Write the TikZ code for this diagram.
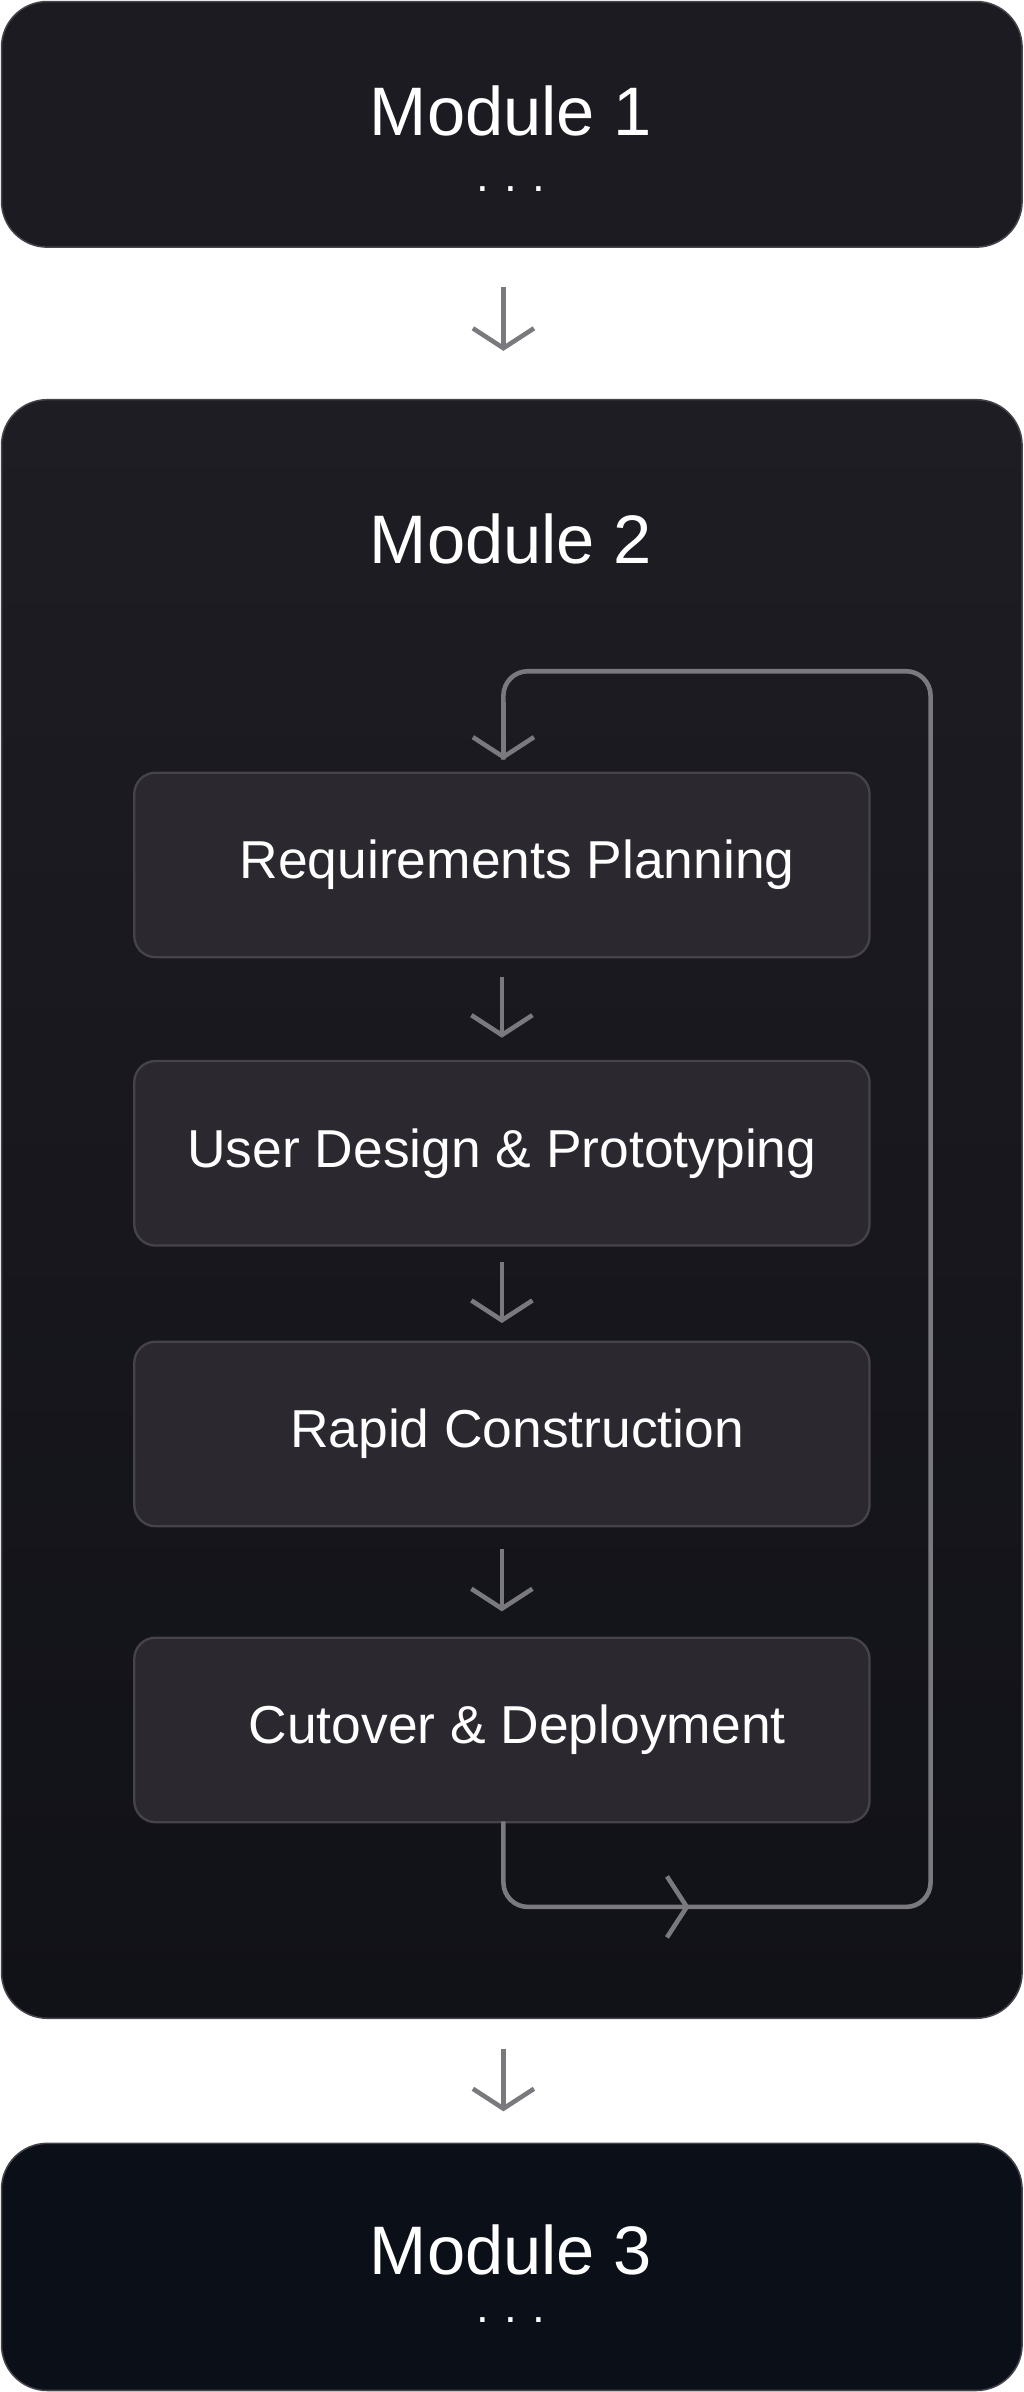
\documentclass[tikz,border=0pt]{standalone}
\usepackage{fontspec}
\setmainfont{Liberation Sans}
\usetikzlibrary{arrows.meta}
\definecolor{modtop}{HTML}{1C1B21}
\definecolor{modmid}{HTML}{1E1D23}
\definecolor{modlow}{HTML}{111118}
\definecolor{modbot}{HTML}{0B0F18}
\definecolor{stepfill}{HTML}{2B292F}
\definecolor{stepline}{HTML}{46444A}
\definecolor{flow}{HTML}{7A7A7E}
\begin{document}
\begin{tikzpicture}[x=1pt,y=-1pt,
    module/.style={rounded corners=30pt, draw=stepline, line width=1pt},
    stepbox/.style={rounded corners=14pt, draw=stepline, line width=1.5pt, fill=stepfill,
      minimum width=482pt, minimum height=121pt, text=white, font=\fontsize{35}{40}\selectfont},
    title/.style={text=white, font=\fontsize{45}{50}\selectfont},
    dots/.style={text=white, inner sep=0pt, font=\fontsize{30}{34}\selectfont},
    arrow/.style={-{Straight Barb[length=13pt,width=40pt,line width=3pt]}, draw=flow, line width=3pt}]
\useasboundingbox (0,0) rectangle (671,1568);
\fill[white] (0,0) rectangle (671,1568);

% Modules
\draw[module, fill=modtop] (1,1) rectangle (670,162);
\draw[module, top color=modmid, bottom color=modlow] (1,262) rectangle (670,1323);
\draw[module, fill=modbot] (1,1405) rectangle (670,1567);

\node[title] (m1) at (335,73) {Module 1};
\node[dots] (d1) at (335,124) {.\,\,.\,\,.};
\node[title] (m2) at (335,353) {Module 2};
\node[title] (m3) at (335,1475) {Module 3};
\node[dots] (d3) at (335,1521) {.\,\,.\,\,.};

% Steps
\node[stepbox] (req) at (329,567) {\hspace*{20pt}Requirements Planning};
\node[stepbox] (des) at (329,756) {User Design \& Prototyping};
\node[stepbox] (con) at (329,940) {\hspace*{20pt}Rapid Construction};
\node[stepbox] (cut) at (329,1134) {\hspace*{20pt}Cutover \& Deployment};

% Arrows between modules and steps
\coordinate (a1) at (330,188); \coordinate (b1) at (330,230);
\coordinate (a2) at (330,1343); \coordinate (b2) at (330,1384);
\draw[arrow] (a1) -- (b1);
\draw[arrow] (a2) -- (b2);
\draw[arrow] ([yshift=-12pt]req.south) -- ([yshift=-52pt]req.south);
\draw[arrow] ([yshift=-10pt]des.south) -- ([yshift=-50pt]des.south);
\draw[arrow] ([yshift=-14pt]con.south) -- ([yshift=-55pt]con.south);

% Loop
\coordinate (lb) at (330,1194);
\coordinate (lr) at (452,1250);
\coordinate (lt) at (330,498);
\draw[flow, line width=3pt, rounded corners=16pt] (lb) -- (330,1250) -- (610,1250) -- (610,440) -- (330,440) -- (lt);
\draw[arrow] (330,460) -- (lt);
\draw[arrow] (420,1250) -- (lr);
\end{tikzpicture}
\end{document}
